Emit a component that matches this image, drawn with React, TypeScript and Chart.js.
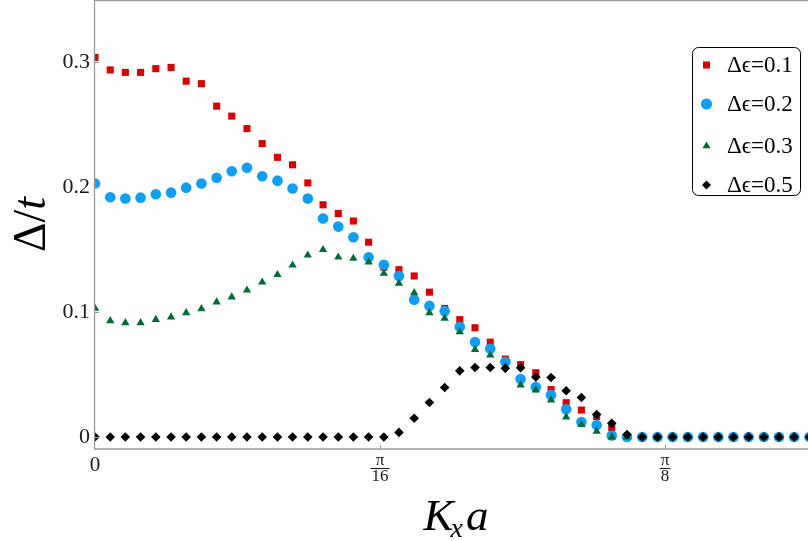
import React, { useEffect, useRef } from 'react';
import { Chart, registerables } from 'chart.js';

Chart.register(...registerables);

// K_x a sample points (radians)
const KX = [
  0, 0.0105, 0.0209, 0.0314, 0.0419, 0.0524, 0.0628, 0.0733, 0.0838, 0.0942,
  0.1047, 0.1152, 0.1257, 0.1361, 0.1466, 0.1571, 0.1676, 0.178, 0.1885, 0.199,
  0.2094, 0.2199, 0.2304, 0.2409, 0.2513, 0.2618, 0.2723, 0.2827, 0.2932, 0.3037,
  0.3142, 0.3246, 0.3351, 0.3456, 0.356, 0.3665, 0.377, 0.3875, 0.3979, 0.4084,
  0.4189, 0.4294, 0.4398, 0.4503, 0.4608, 0.4712, 0.4817, 0.4922,
];

// Δ/t for Δϵ = 0.1
const GAP_01 = [
  0.304, 0.294, 0.292, 0.292, 0.295, 0.296, 0.285, 0.283, 0.265, 0.257,
  0.247, 0.235, 0.224, 0.218, 0.2035, 0.186, 0.179, 0.173, 0.156, 0.136,
  0.134, 0.129, 0.116, 0.103, 0.094, 0.0875, 0.076, 0.0624, 0.058, 0.0515,
  0.038, 0.0275, 0.0216, 0.0165, 0.0075, 0, 0, 0, 0, 0,
  0, 0, 0, 0, 0, 0, 0, 0,
];

// Δ/t for Δϵ = 0.2
const GAP_02 = [
  0.203, 0.192, 0.191, 0.1917, 0.1944, 0.1957, 0.1997, 0.203, 0.2077, 0.2128,
  0.2157, 0.2088, 0.2053, 0.199, 0.191, 0.175, 0.1685, 0.16, 0.144, 0.138,
  0.129, 0.11, 0.105, 0.1008, 0.0883, 0.076, 0.0707, 0.0603, 0.0464, 0.04,
  0.0336, 0.0222, 0.012, 0.0096, 0.0012, 0, 0, 0, 0, 0,
  0, 0, 0, 0, 0, 0, 0, 0,
];

// Δ/t for Δϵ = 0.3
const GAP_03 = [
  0.103, 0.093, 0.0915, 0.0915, 0.094, 0.096, 0.0995, 0.1027, 0.108, 0.112,
  0.1176, 0.124, 0.13, 0.1376, 0.1456, 0.15, 0.144, 0.143, 0.14, 0.131,
  0.123, 0.1155, 0.0995, 0.095, 0.0843, 0.07, 0.0656, 0.0563, 0.0416, 0.0376,
  0.0296, 0.016, 0.01, 0.0045, 0, 0, 0, 0, 0, 0,
  0, 0, 0, 0, 0, 0, 0, 0,
];

// Δ/t for Δϵ = 0.5
const GAP_05 = [
  0, 0, 0, 0, 0, 0, 0, 0, 0, 0,
  0, 0, 0, 0, 0, 0, 0, 0, 0, 0,
  0.0037, 0.015, 0.0277, 0.0397, 0.053, 0.0557, 0.0557, 0.055, 0.0555, 0.048,
  0.0477, 0.037, 0.0316, 0.018, 0.011, 0.002, 0, 0, 0, 0,
  0, 0, 0, 0, 0, 0, 0, 0,
];

const SERIES_LABELS = ['\u0394\u03F5=0.1', '\u0394\u03F5=0.2', '\u0394\u03F5=0.3', '\u0394\u03F5=0.5'];
const SERIES_COLORS = ['#dd0000', '#0b9ff5', '#006b36', '#000000'];
const SERIES_STYLES = ['rect', 'circle', 'triangle', 'rectRot'];
const SERIES_RADII = [5, 5.3, 4.8, 4.8];

const X_TICKS = [0, Math.PI / 16, Math.PI / 8];
const X_TICK_LABELS: (string | string[])[] = ['0', ['\u03C0', '16'], ['\u03C0', '8']];
const Y_TICKS = [0, 0.1, 0.2, 0.3];
const Y_TICK_LABELS = ['0', '0.1', '0.2', '0.3'];

const X_MIN = 0;
const X_MAX = 0.4912;
const Y_MIN = -0.0096;
const Y_MAX = 0.35;

const SERIF = '"Liberation Serif", "Times New Roman", "DejaVu Serif", serif';

function drawMarker(ctx: CanvasRenderingContext2D, style: string, x: number, y: number, r: number, color: string) {
  ctx.fillStyle = color;
  ctx.beginPath();
  if (style === 'rect') {
    const s = Math.SQRT1_2 * r;
    ctx.rect(x - s, y - s, 2 * s, 2 * s);
  } else if (style === 'circle') {
    ctx.arc(x, y, r, 0, Math.PI * 2);
  } else if (style === 'triangle') {
    ctx.moveTo(x, y - r);
    ctx.lineTo(x + Math.sin(Math.PI * 2 / 3) * r, y + 0.5 * r);
    ctx.lineTo(x - Math.sin(Math.PI * 2 / 3) * r, y + 0.5 * r);
    ctx.closePath();
  } else {
    ctx.moveTo(x - r, y);
    ctx.lineTo(x, y - r);
    ctx.lineTo(x + r, y);
    ctx.lineTo(x, y + r);
    ctx.closePath();
  }
  ctx.fill();
}

const framePlugin = {
  id: 'frameDecor',
  afterDatasetsDraw(chart: any) {
    const { ctx, chartArea: ca, scales } = chart;
    const xs = scales.x;
    const ys = scales.y;
    ctx.save();
    ctx.strokeStyle = '#9a9a9a';
    ctx.lineWidth = 1.3;
    ctx.beginPath();
    ctx.moveTo(ca.left - 0.5, ca.top + 0.7);
    ctx.lineTo(ca.right, ca.top + 0.7);
    ctx.moveTo(ca.left - 0.5, ca.top);
    ctx.lineTo(ca.left - 0.5, ca.bottom);
    ctx.lineTo(ca.right, ca.bottom);
    ctx.stroke();
    ctx.lineWidth = 1;
    ctx.beginPath();
    X_TICKS.forEach((v) => {
      if (v === 0) return;
      const px = Math.round(xs.getPixelForValue(v)) + 0.5;
      ctx.moveTo(px, ca.bottom);
      ctx.lineTo(px, ca.bottom - 4);
    });
    Y_TICKS.forEach((v) => {
      const py = Math.round(ys.getPixelForValue(v)) + 0.5;
      ctx.moveTo(ca.left, py);
      ctx.lineTo(ca.left + 4, py);
    });
    ctx.stroke();
    ctx.restore();
  },
  afterDraw(chart: any) {
    const { ctx, chartArea: ca, scales } = chart;
    const xs = scales.x;
    ctx.save();
    // fraction bars under π in x tick labels
    ctx.strokeStyle = '#1a1a1a';
    ctx.lineWidth = 1;
    ctx.font = `17px ${SERIF}`;
    X_TICK_LABELS.forEach((lab, i) => {
      if (!Array.isArray(lab)) return;
      const px = xs.getPixelForValue(X_TICKS[i]);
      const w = ctx.measureText(lab[1]).width + 2;
      const by = ca.bottom + 19.5;
      ctx.beginPath();
      ctx.moveTo(px - w / 2, by);
      ctx.lineTo(px + w / 2, by);
      ctx.stroke();
    });

    // x axis title: K_x a
    ctx.fillStyle = '#000';
    ctx.textBaseline = 'alphabetic';
    ctx.textAlign = 'left';
    const big = `italic 45px ${SERIF}`;
    const small = `italic 28px ${SERIF}`;
    ctx.font = big;
    const wK = ctx.measureText('K').width;
    const wa = ctx.measureText('a').width;
    ctx.font = small;
    const wx = ctx.measureText('x').width;
    const total = wK + wx + wa;
    const cx = (ca.left + ca.right) / 2 + 4.5;
    const base = ca.bottom + 81;
    let x0 = cx - total / 2;
    ctx.font = big;
    ctx.fillText('K', x0, base);
    x0 += wK - 3;
    ctx.font = small;
    ctx.fillText('x', x0, base + 7);
    x0 += wx + 3;
    ctx.font = big;
    ctx.fillText('a', x0, base);

    // y axis title: Δ/t (rotated)
    ctx.save();
    ctx.translate(45, (ca.top + ca.bottom) / 2);
    ctx.rotate(-Math.PI / 2);
    const up = `46px ${SERIF}`;
    const it = `italic 46px ${SERIF}`;
    ctx.font = up;
    const wD = ctx.measureText('\u0394').width;
    const wS = ctx.measureText('/').width;
    ctx.font = it;
    const wt = ctx.measureText('t').width;
    let y0 = -(wD + wS + wt) / 2;
    ctx.font = up;
    ctx.fillText('\u0394', y0, 0);
    y0 += wD;
    ctx.fillText('/', y0, 0);
    y0 += wS;
    ctx.font = it;
    ctx.fillText('t', y0, 0);
    ctx.restore();

    // legend
    const bx = ca.right - 115.5;
    const bY = ca.top + 47.5;
    const bw = 108;
    const bh = 148;
    ctx.beginPath();
    ctx.roundRect(bx, bY, bw, bh, 6);
    ctx.fillStyle = '#ffffff';
    ctx.fill();
    ctx.strokeStyle = '#000';
    ctx.lineWidth = 1;
    ctx.stroke();
    const rows = [65, 104, 146, 185];
    ctx.font = `23px ${SERIF}`;
    ctx.textBaseline = 'middle';
    ctx.textAlign = 'left';
    SERIES_LABELS.forEach((lab, i) => {
      const ry = ca.top + rows[i];
      const legendR = [5, 5.6, 4.6, 4.5][i];
      drawMarker(ctx, SERIES_STYLES[i], bx + 14, ry, legendR, SERIES_COLORS[i]);
      ctx.fillStyle = '#000';
      ctx.fillText(lab, bx + 34.5, ry + 1);
    });
    ctx.restore();
  },
};

export default function App() {
  const canvasRef = useRef<HTMLCanvasElement | null>(null);

  useEffect(() => {
    if (!canvasRef.current) return;
    const seriesData = [GAP_01, GAP_02, GAP_03, GAP_05];
    const datasets = seriesData.map((vals, si) => ({
      label: SERIES_LABELS[si],
      data: KX.map((x, i) => ({ x, y: vals[i] })),
      showLine: false,
      pointStyle: SERIES_STYLES[si],
      pointRadius: SERIES_RADII[si],
      pointHoverRadius: SERIES_RADII[si],
      pointBackgroundColor: SERIES_COLORS[si],
      pointBorderColor: SERIES_COLORS[si],
      pointBorderWidth: 0,
      backgroundColor: SERIES_COLORS[si],
      borderColor: SERIES_COLORS[si],
      order: 4 - si,
      clip: 0,
    }));

    const chart = new Chart(canvasRef.current, {
      type: 'scatter',
      data: { datasets },
      options: {
        animation: false,
        responsive: true,
        maintainAspectRatio: false,
        devicePixelRatio: 1,
        layout: { padding: 0, autoPadding: false },
        plugins: {
          legend: { display: false },
          tooltip: { enabled: false },
        },
        scales: {
          x: {
            type: 'linear',
            min: X_MIN,
            max: X_MAX,
            afterBuildTicks: (s: any) => {
              s.ticks = X_TICKS.map((v) => ({ value: v }));
            },
            afterFit: (s: any) => {
              s.height = 92;
              s.paddingLeft = 0;
              s.paddingRight = 0;
              s.paddingTop = 0;
              s.paddingBottom = 0;
            },
            grid: { display: false, drawTicks: false },
            border: { display: false },
            ticks: {
              autoSkip: false,
              maxRotation: 0,
              minRotation: 0,
              padding: 4,
              color: '#1a1a1a',
              font: (ctx: any) =>
                ctx.index === 0
                  ? { family: SERIF, size: 21, lineHeight: 1.2 }
                  : { family: SERIF, size: 17, lineHeight: 16 / 17 },
              callback: (_v: any, i: number) => X_TICK_LABELS[i],
            },
          },
          y: {
            type: 'linear',
            min: Y_MIN,
            max: Y_MAX,
            afterBuildTicks: (s: any) => {
              s.ticks = Y_TICKS.map((v) => ({ value: v }));
            },
            afterFit: (s: any) => {
              s.width = 95;
              s.paddingLeft = 0;
              s.paddingRight = 0;
              s.paddingTop = 0;
              s.paddingBottom = 0;
            },
            grid: { display: false, drawTicks: false },
            border: { display: false },
            ticks: {
              padding: 5,
              color: '#1a1a1a',
              font: { family: SERIF, size: 22 },
              callback: (_v: any, i: number) => Y_TICK_LABELS[i],
            },
          },
        },
      },
      plugins: [framePlugin],
    });
    return () => chart.destroy();
  }, []);

  return (
    <div style={{ position: 'absolute', left: 0, top: 0, width: 808, height: 541, background: '#fff' }}>
      <canvas ref={canvasRef} />
    </div>
  );
}
